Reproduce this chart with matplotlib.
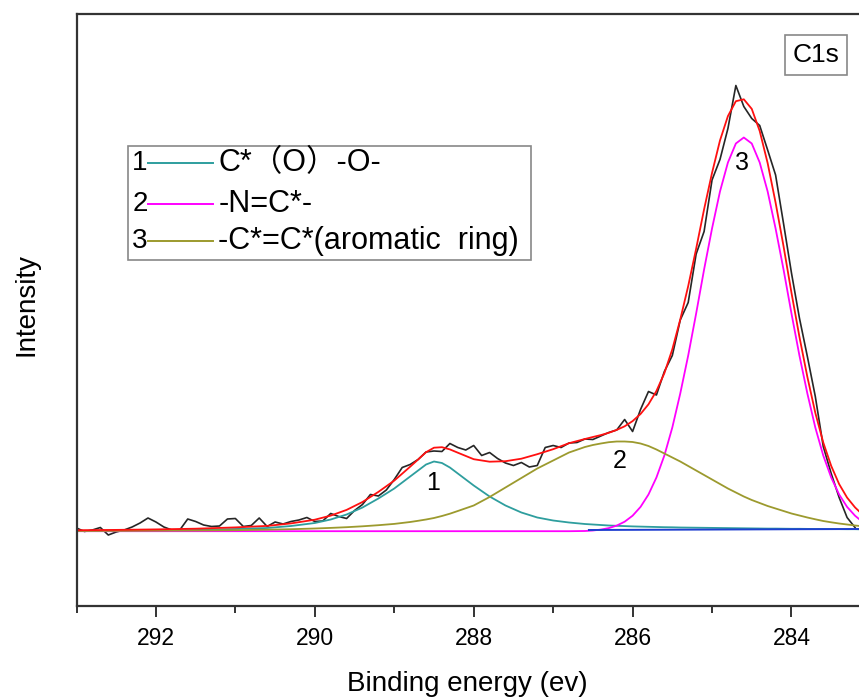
import numpy as np
import matplotlib.pyplot as plt
from matplotlib.patches import Rectangle
from matplotlib.ticker import MultipleLocator

plt.rcParams['font.family'] = ['Liberation Sans', 'Noto Sans CJK SC', 'DejaVu Sans']

# measured C1s spectrum, 0.1 eV steps from 293.0 down to 283.2 eV
spec_energy = np.round(np.arange(2930, 2831, -1) / 10.0, 1)
spec_counts = [
    3.5, 0, 1.5, 4, -3.5, -0.5, 1.5, 4.5, 8.5, 13.5,
    9.5, 4.5, 1.5, 1.5, 12.5, 10, 6.5, 5, 5.5, 12.5,
    13, 5, 6, 13.5, 5, 9.5, 7.5, 10, 11.5, 14,
    10, 10.5, 18, 15, 13, 21, 27, 37, 35.5, 41.5,
    52, 64, 67, 72, 79.5, 80.5, 80, 88, 84, 81.5,
    86, 76, 79, 73, 68.5, 66, 69, 64.5, 66, 84,
    86, 84, 88.5, 89, 92.5, 92, 95.5, 99, 101.5, 112,
    100, 122, 140, 136.5, 160, 176, 211.5, 229, 277.5, 300,
    351.5, 372, 403, 446, 425, 413, 406, 381.5, 356.5, 308,
    258.5, 213.5, 175, 135, 85, 58, 34, 14, 4,
]

# fitted components
fit_energy = [
    293.0, 292.5, 292.0, 291.5, 291.0, 290.6, 290.3, 290.0, 289.8, 289.6,
    289.4, 289.2, 289.0, 288.8, 288.7, 288.6, 288.5, 288.4, 288.3, 288.2,
    288.0, 287.8, 287.6, 287.4, 287.2, 287.0, 286.8, 286.6,
    286.5, 286.4, 286.3, 286.2, 286.1, 286.0, 285.9, 285.8, 285.7, 285.6,
    285.5, 285.4, 285.3, 285.2, 285.1, 285.0, 284.9, 284.8, 284.7, 284.6,
    284.5, 284.4, 284.3, 284.2, 284.1, 284.0, 283.9, 283.8, 283.7, 283.6,
    283.5, 283.4, 283.3, 283.2, 283.15,
]
peak1 = [
    0.5, 0.7, 1.0, 1.5, 2.5, 3.5, 5.5, 8.5, 12, 17,
    24, 33, 43, 55, 61, 67, 70, 68.5, 64, 58,
    46, 35, 26, 19, 14, 11, 9, 7.5,
    7, 6.5, 6, 5.7, 5.4, 5.1, 4.9, 4.7, 4.5, 4.3,
    4.2, 4.0, 3.9, 3.8, 3.7, 3.6, 3.5, 3.4, 3.3, 3.2,
    3.1, 3.0, 2.9, 2.9, 2.8, 2.7, 2.7, 2.6, 2.5, 2.5,
    2.4, 2.4, 2.3, 2.3, 2.2,
]
peak2 = [
    0.5, 0.6, 0.8, 1.0, 1.3, 1.8, 2.3, 3.0, 3.6, 4.3,
    5.2, 6.3, 7.6, 9.5, 10.7, 12, 13.5, 15.5, 17.8, 20.5,
    26, 34.5, 44, 53.5, 63, 71, 79, 84.5,
    86.5, 88, 89.3, 90, 90, 89.5, 88, 85.5, 82, 78,
    74, 70, 65.5, 61, 56.5, 52, 47.5, 43, 39, 35,
    31.5, 28.5, 25.5, 23, 20.5, 18, 16, 14, 12.2, 10.5,
    9.2, 8, 7, 6, 5.6,
]
peak3 = [
    0.3, 0.3, 0.3, 0.3, 0.3, 0.3, 0.3, 0.3, 0.3, 0.3,
    0.3, 0.3, 0.3, 0.3, 0.3, 0.3, 0.3, 0.3, 0.3, 0.3,
    0.3, 0.3, 0.3, 0.3, 0.3, 0.3, 0.3, 0.5,
    1.0, 1.9, 3.4, 5.9, 9.8, 15.8, 24.6, 37, 54, 76,
    104, 138, 176, 218, 262, 303, 340, 369, 388, 394,
    388, 369, 340, 303, 262, 218, 176, 138, 104, 76,
    54, 37, 24.6, 15.8, 12.5,
]
envelope = [
    1.3, 1.6, 2.1, 2.8, 4.1, 5.6, 8.1, 11.8, 15.9, 21.6,
    29.5, 39.6, 50.9, 64.8, 72.0, 79.3, 83.8, 84.3, 82.1, 78.8,
    72.3, 69.8, 70.3, 72.8, 77.3, 82.3, 88.3, 92.5,
    94.5, 96.4, 98.7, 101.6, 105.2, 110.4, 117.5, 127.2, 140.5, 158.3,
    182.2, 212.0, 245.4, 282.8, 322.2, 358.6, 391.0, 415.4, 430.3, 432.2,
    422.6, 400.5, 368.4, 328.9, 285.3, 238.7, 194.7, 154.6, 118.7, 89.0,
    65.6, 47.4, 33.9, 24.1, 20.3,
]
bg_energy = [286.55, 283.15]
bg_counts = [1.5, 2.5]

legend_names = ['C*（O）-O-', '-N=C*-', '-C*=C*(aromatic  ring)']

c_cyan = '#2e9e9e'
c_magenta = '#ff00ff'
c_olive = '#9c9a2e'

fig = plt.figure(figsize=(8.59, 7.0), dpi=100)
ax = fig.add_axes([76.5 / 859, 94 / 700, 782.5 / 859, 592 / 700])

ax.plot(spec_energy, spec_counts, color='#262626', lw=1.2)
ax.plot(fit_energy, peak1, color=c_cyan, lw=1.3)
ax.plot(fit_energy, peak3, color=c_magenta, lw=1.3)
ax.plot(fit_energy, peak2, color=c_olive, lw=1.3)
ax.plot(bg_energy, bg_counts, color='#1f3fd0', lw=1.4)
ax.plot(fit_energy, envelope, color='#ff1010', lw=1.3)

# peak numbers
ax.text(288.51, 48, '1', fontsize=18, ha='center', va='center')
ax.text(286.16, 71, '2', fontsize=18, ha='center', va='center')
ax.text(284.62, 368, '3', fontsize=18, ha='center', va='center')

ax.set_xlim(293.0, 283.15)
ax.set_ylim(-74.5, 517.5)
ax.xaxis.set_major_locator(MultipleLocator(2))
ax.xaxis.set_minor_locator(MultipleLocator(1))
ax.set_yticks([])
ax.tick_params(axis='x', which='major', direction='out', length=8, width=1.4,
               labelsize=16.5, pad=7, color='#333333')
ax.tick_params(axis='x', which='minor', direction='out', length=5, width=1.4,
               color='#333333')
for side in ('left', 'top', 'bottom'):
    ax.spines[side].set_color('#333333')
    ax.spines[side].set_linewidth(1.6)
ax.spines['right'].set_visible(False)

ax.set_xlabel('Binding energy (ev)', fontsize=20, labelpad=15)
ax.set_ylabel('Intensity', fontsize=20)
ax.yaxis.set_label_coords(-0.047, 0.51)

ax.text(0.945, 0.931, 'C1s', transform=ax.transAxes, fontsize=19,
        ha='center', va='center',
        bbox=dict(boxstyle='square,pad=0.3', fc='white', ec='#888888', lw=1.2))

# legend box with numbered entries
ax.add_patch(Rectangle((0.066, 0.584), 0.515, 0.193, transform=ax.transAxes,
                       fill=False, ec='#888888', lw=1.2))
rows_y = [0.748, 0.679, 0.617]
for num, (name, col, yy) in enumerate(zip(legend_names,
                                          [c_cyan, c_magenta, c_olive], rows_y), 1):
    ax.text(0.081, yy, str(num), transform=ax.transAxes, fontsize=20,
            ha='center', va='center')
    ax.plot([0.0914, 0.1745], [yy, yy], transform=ax.transAxes, color=col, lw=1.4)
    ax.text(0.181, yy, name, transform=ax.transAxes, fontsize=22,
            ha='left', va='center')

fig.savefig('out.png', dpi=100)
